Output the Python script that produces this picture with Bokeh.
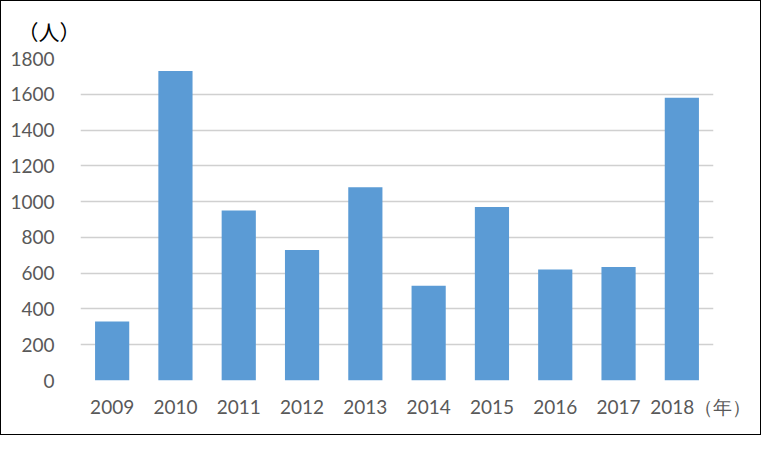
from bokeh.plotting import figure
from bokeh.models import Range1d, Title, SingleIntervalTicker, FixedTicker
from bokeh.embed import file_html
from bokeh.resources import INLINE

years = ["2009", "2010", "2011", "2012", "2013", "2014", "2015", "2016", "2017", "2018"]
people = [330, 1730, 950, 730, 1080, 530, 970, 620, 635, 1580]
y_unit = "（人）"
x_unit = "（年）"

FONT = "Lato"
TXT = "#595959"

idx = list(range(len(years)))

W, H = 761, 435
p = figure(x_range=Range1d(-0.5, len(years) - 0.5), y_range=Range1d(0, 1800), width=W, height=H,
           output_backend="svg", toolbar_location=None,
           min_border_left=79, min_border_right=49, min_border_top=57, min_border_bottom=56)
p.styles = {"border": "1px solid black", "box-sizing": "border-box"}
p.outline_line_color = None

p.vbar(x=idx, top=people, width=0.54, color="#5B9BD5", line_color=None)

p.xgrid.grid_line_color = None
p.ygrid.grid_line_color = "#d0d0d0"
p.ygrid.grid_line_width = 1.5
p.yaxis.ticker = SingleIntervalTicker(interval=200)
p.xaxis.ticker = FixedTicker(ticks=idx)
labels = {i: y for i, y in zip(idx, years)}
# unit of the x axis written after the last year, padded so the year stays centred
labels[idx[-1]] = "\u3000\u3000" + years[-1] + x_unit
p.xaxis.major_label_overrides = labels

for ax in (p.xaxis[0], p.yaxis[0]):
    ax.axis_line_color = None
    ax.major_tick_line_color = None
    ax.minor_tick_line_color = None
    ax.major_label_text_font = FONT
    ax.major_label_text_font_size = "19px"
    ax.major_label_text_color = TXT
p.yaxis.major_label_standoff = 20
p.xaxis.major_label_standoff = 8

p.add_layout(Title(text=y_unit, align="left", offset=-63, standoff=25,
                   text_font="Noto Sans CJK JP", text_font_size="21px",
                   text_font_style="normal", text_color="#000000"), "above")

open("out.html", "w").write(file_html(p, INLINE))
